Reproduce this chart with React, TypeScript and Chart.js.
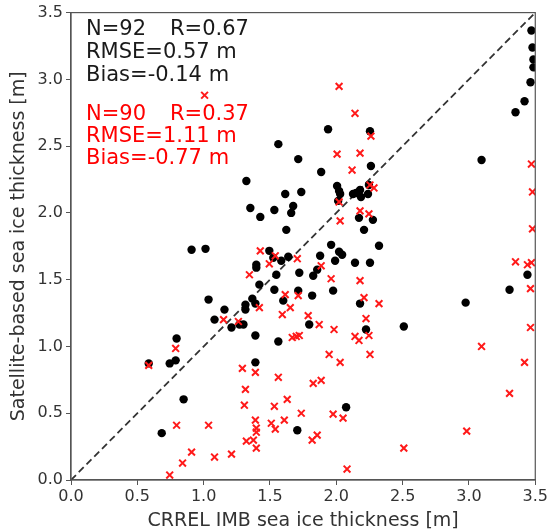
import React, { useEffect, useRef } from "react";
import { Chart, registerables } from "chart.js";

Chart.register(...registerables);

// Black dots: altimetry-based (set 1)
const blackX = [
  1.563, 1.713, 1.322, 1.736, 1.615, 1.352, 1.533, 1.675, 1.66, 1.427, 1.623, 0.909, 1.014, 1.495, 1.397,
  1.397, 1.525, 1.585, 1.638, 1.548, 1.721, 1.42, 1.533, 1.713, 1.037, 1.367, 1.938, 2.254, 2.261, 1.886,
  3.095, 3.471, 3.479, 3.486, 3.486, 3.464, 3.419, 3.351, 2.006, 2.021, 2.029, 2.126, 2.149, 2.179, 2.186,
  2.246, 2.239, 2.014, 2.171, 2.276, 2.209, 1.961, 2.021, 2.044, 2.322, 1.878, 1.991, 2.141, 2.254, 1.856,
  1.826, 1.818, 1.976, 2.179, 1.796, 2.224, 2.509, 2.975, 3.306, 3.441, 1.6, 1.39, 1.315, 1.315, 1.157,
  1.21, 1.27, 1.3, 1.39, 1.563, 1.082, 1.39, 0.796, 0.789, 0.744, 0.586, 0.849, 0.684, 1.706, 2.074,
];
const blackY = [
  2.515, 2.403, 2.239, 2.157, 2.142, 2.037, 2.022, 2.052, 2.0, 1.97, 1.873, 1.724, 1.731, 1.716, 1.612,
  1.59, 1.664, 1.642, 1.672, 1.537, 1.552, 1.463, 1.425, 1.418, 1.351, 1.358, 2.627, 2.612, 2.351, 2.306,
  2.396, 3.366, 3.239, 3.149, 3.09, 2.978, 2.836, 2.754, 2.201, 2.164, 2.142, 2.142, 2.149, 2.172, 2.119,
  2.209, 2.142, 2.09, 1.963, 1.948, 1.873, 1.761, 1.709, 1.687, 1.754, 1.679, 1.642, 1.627, 1.627, 1.575,
  1.53, 1.381, 1.418, 1.321, 1.164, 1.127, 1.149, 1.328, 1.425, 1.537, 1.343, 1.321, 1.313, 1.276, 1.276,
  1.142, 1.164, 1.164, 1.082, 1.037, 1.201, 0.881, 1.06, 0.896, 0.873, 0.873, 0.604, 0.351, 0.373, 0.545,
];

// Red crosses: set 2
const redX = [
  1.007, 2.021, 2.141, 2.261, 2.006, 2.179, 2.119, 3.471, 2.254, 2.284, 2.021, 2.179, 2.246, 2.029, 3.479,
  3.479, 3.351, 3.441, 3.471, 3.464, 3.464, 1.427, 1.54, 1.495, 1.706, 1.345, 1.615, 1.713, 1.886, 1.961,
  2.179, 2.209, 2.322, 1.788, 1.871, 2.224, 1.983, 2.141, 2.171, 2.246, 1.668, 1.698, 1.721, 1.42, 1.653,
  1.593, 1.15, 1.262, 0.586, 0.789, 1.292, 1.39, 1.563, 1.315, 1.307, 1.533, 1.63, 1.736, 0.796, 1.037,
  1.39, 1.397, 1.397, 1.51, 1.54, 1.608, 1.322, 1.375, 1.397, 0.909, 1.082, 1.21, 0.841, 0.744, 1.818,
  1.856, 1.946, 2.029, 2.254, 1.826, 1.886, 1.976, 2.051, 2.081, 2.509, 2.983, 3.095, 3.306, 3.419,
];
const redY = [
  2.881, 2.948, 2.746, 2.575, 2.44, 2.448, 2.321, 2.366, 2.209, 2.187, 2.082, 2.015, 1.993, 1.94, 2.157,
  1.881, 1.634, 1.612, 1.627, 1.433, 1.142, 1.716, 1.679, 1.619, 1.657, 1.537, 1.388, 1.381, 1.604, 1.507,
  1.493, 1.366, 1.321, 1.231, 1.164, 1.209, 1.127, 1.075, 1.045, 1.082, 1.067, 1.075, 1.082, 1.291, 1.291,
  1.239, 1.201, 1.187, 0.858, 0.985, 0.836, 0.806, 0.769, 0.679, 0.56, 0.552, 0.604, 0.5, 0.41, 0.41,
  0.448, 0.388, 0.358, 0.425, 0.381, 0.448, 0.291, 0.299, 0.239, 0.209, 0.172, 0.194, 0.127, 0.037, 0.299,
  0.336, 0.94, 0.881, 0.94, 0.724, 0.746, 0.493, 0.463, 0.082, 0.239, 0.366, 1.0, 0.649, 0.881,
];

const oneToOne = [0, 3.5];
const tickValues = [0, 0.5, 1.0, 1.5, 2.0, 2.5, 3.0, 3.5];

const statsBlack = ["N=92", "R=0.67", "RMSE=0.57 m", "Bias=-0.14 m"];
const statsRed = ["N=90", "R=0.37", "RMSE=1.11 m", "Bias=-0.77 m"];

const FONT = '"DejaVu Sans", sans-serif';

const framePlugin = {
  id: "frameAndText",
  afterDatasetsDraw(chart: any) {
    const { ctx, chartArea } = chart;
    ctx.save();
    ctx.strokeStyle = "#555";
    ctx.lineWidth = 1.2;
    ctx.strokeRect(chartArea.left, chartArea.top, chartArea.right - chartArea.left, chartArea.bottom - chartArea.top);
    ctx.font = `21px ${FONT}`;
    ctx.textBaseline = "alphabetic";
    ctx.textAlign = "left";
    const lx = chartArea.left + 15;
    const rx = chartArea.left + 99;
    ctx.fillStyle = "#1a1a1a";
    ctx.fillText(statsBlack[0], lx, 35);
    ctx.fillText(statsBlack[1], rx, 35);
    ctx.fillText(statsBlack[2], lx, 58);
    ctx.fillText(statsBlack[3], lx, 81);
    ctx.fillStyle = "#ff0000";
    ctx.fillText(statsRed[0], lx, 120);
    ctx.fillText(statsRed[1], rx, 120);
    ctx.fillText(statsRed[2], lx, 142);
    ctx.fillText(statsRed[3], lx, 164);
    ctx.restore();
  },
};

export default function App() {
  const ref = useRef<HTMLCanvasElement | null>(null);
  useEffect(() => {
    if (!ref.current) return;
    const black = blackX.map((x, i) => ({ x, y: blackY[i] }));
    const red = redX.map((x, i) => ({ x, y: redY[i] }));
    const line = oneToOne.map((v) => ({ x: v, y: v }));
    const chart = new Chart(ref.current, {
      type: "scatter",
      data: {
        datasets: [
          {
            data: red,
            pointStyle: "crossRot",
            pointRadius: 4.8,
            borderColor: "#ff1a1a",
            pointBorderWidth: 2,
            backgroundColor: "#ff1a1a",
            order: 0,
          },
          {
            data: black,
            pointStyle: "circle",
            pointRadius: 4.2,
            backgroundColor: "#000",
            borderColor: "#000",
            pointBorderWidth: 0,
            order: 1,
          },
          {
            type: "line",
            data: line,
            borderColor: "#333",
            borderWidth: 1.8,
            borderDash: [7, 4],
            pointRadius: 0,
            fill: false,
            order: 2,
          } as any,
        ],
      },
      options: {
        animation: false,
        responsive: true,
        maintainAspectRatio: false,
        layout: { padding: { left: 4, right: 13, top: 11, bottom: 0 } },
        plugins: { legend: { display: false }, tooltip: { enabled: false } },
        scales: {
          x: {
            type: "linear",
            min: 0,
            max: 3.5,
            afterFit: (s: any) => {
              s.height = 52;
            },
            afterBuildTicks: (s: any) => {
              s.ticks = tickValues.map((v) => ({ value: v }));
            },
            ticks: {
              color: "#333",
              font: { family: FONT, size: 16 },
              padding: 2,
              maxRotation: 0,
              callback: (v: any) => Number(v).toFixed(1),
            },
            grid: { display: true, drawOnChartArea: false, drawTicks: true, tickLength: 5, color: "#555" },
            border: { display: true, color: "#555", width: 1.2 },
            title: {
              display: true,
              text: "CRREL IMB sea ice thickness [m]",
              color: "#333",
              font: { family: FONT, size: 19 },
              padding: { top: 0, bottom: 0 },
            },
          },
          y: {
            type: "linear",
            min: 0,
            max: 3.5,
            afterFit: (s: any) => {
              s.width = 67;
            },
            afterBuildTicks: (s: any) => {
              s.ticks = tickValues.map((v) => ({ value: v }));
            },
            ticks: {
              color: "#333",
              font: { family: FONT, size: 16 },
              padding: 3,
              callback: (v: any) => Number(v).toFixed(1),
            },
            grid: { display: true, drawOnChartArea: false, drawTicks: true, tickLength: 5, color: "#555" },
            border: { display: true, color: "#555", width: 1.2 },
            title: {
              display: true,
              text: "Satellite-based sea ice thickness [m]",
              color: "#333",
              font: { family: FONT, size: 19 },
              padding: { top: 4, bottom: 0 },
            },
          },
        },
      },
      plugins: [framePlugin],
    });
    return () => chart.destroy();
  }, []);
  return (
    <div style={{ position: "fixed", left: 0, top: 0, width: 550, height: 532, background: "#fff" }}>
      <canvas ref={ref} />
    </div>
  );
}
